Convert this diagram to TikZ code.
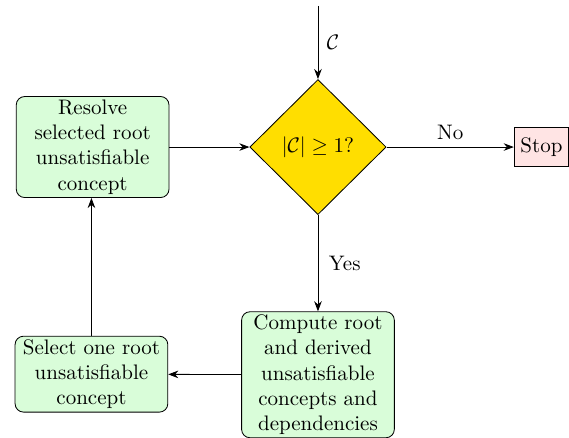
\documentclass[tikz,border=0pt]{standalone}
\usepackage{amsmath, amssymb}
\usetikzlibrary{arrows.meta, positioning, shapes.geometric}
\definecolor{cGreen}{RGB}{217,253,217}
\definecolor{cYellow}{RGB}{255,222,0}
\definecolor{cPink}{RGB}{255,228,228}

\begin{document}
\begin{tikzpicture}[
  >=Stealth,
  block/.style={draw, rounded corners=4pt, align=center, fill=cGreen,
                text width=2.45cm, inner sep=1.5pt},
  decision/.style={draw, diamond, aspect=1, fill=cYellow, inner sep=0pt,
                   minimum width=2.28cm, minimum height=2.26cm},
  stopbox/.style={draw, fill=cPink, inner xsep=3pt, minimum height=0.64cm},
  arr/.style={->}
]
\useasboundingbox (-5.32,2.46) rectangle (4.20,-4.86);

%% -- NODES --------------------------------------------------------------

\node[decision] (test) at (0,0) {$|\mathcal{C}| \geq 1$?};

\coordinate (start) at (0,2.36);

\node[stopbox] (stop) at (3.74,0) {Stop};

\node[block, minimum height=1.69cm] (resolve) at (-3.77,0) {
  Resolve\\selected root\\unsatisfiable\\concept
};

\node[block, minimum height=2.09cm] (compute) at (0,-3.81) {
  Compute root\\and derived\\unsatisfiable\\concepts and\\dependencies
};

\node[block, minimum height=1.27cm] (select) at (-3.79,-3.80) {
  Select one root\\unsatisfiable\\concept
};

%% -- ARROWS -------------------------------------------------------------

\draw[arr] (start)   -- node[right, inner sep=4pt] {$\mathcal{C}$} (test);
\draw[arr] (test)    -- node[above] {No} (stop);
\draw[arr] (test)    -- node[right, inner sep=5pt] {Yes} (compute);
\draw[arr] (compute) -- (select);
\draw[arr] (select)  -- (select |- resolve.south);

\draw[arr] (resolve) -- (test);

\end{tikzpicture}
\end{document}
